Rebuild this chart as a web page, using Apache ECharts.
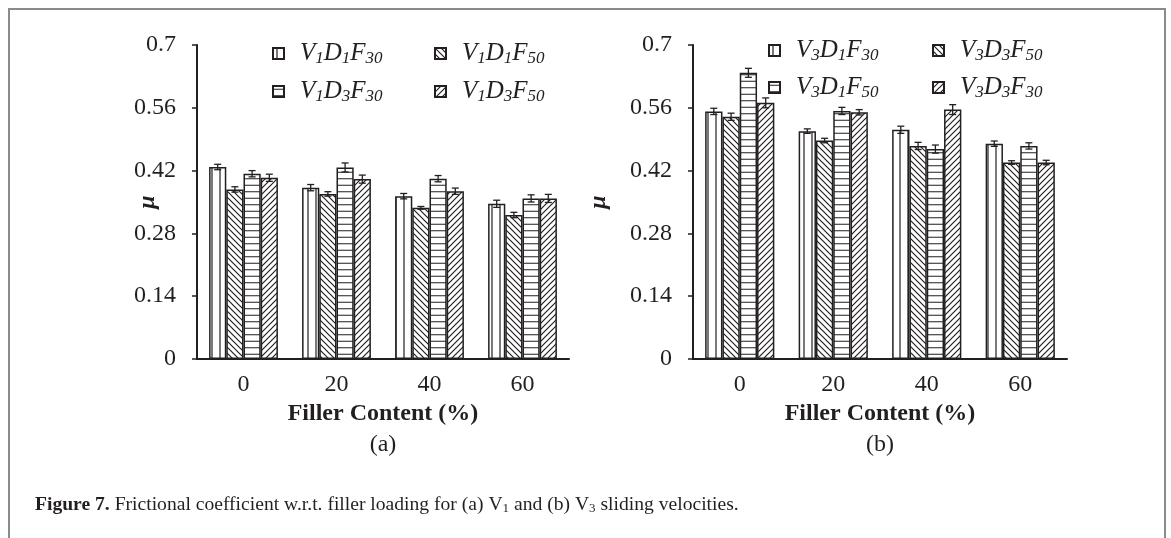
<!DOCTYPE html>
<html><head><meta charset="utf-8">
<script src="https://cdn.jsdelivr.net/npm/echarts@6/dist/echarts.min.js"></script>
<style>html,body{margin:0;padding:0;background:#fff}#c{width:1171px;height:538px}</style>
</head><body><div id="c"></div>
<script>
// ---------- data ----------
const categories = ['0', '20', '40', '60'];
const yTickLabels = ['0', '0.14', '0.28', '0.42', '0.56', '0.7'];

const namesA = ['V1D1F30', 'V1D1F50', 'V1D3F30', 'V1D3F50'];
const a_V1D1F30 = [0.428, 0.382, 0.363, 0.346];
const a_V1D1F50 = [0.378, 0.368, 0.337, 0.321];
const a_V1D3F30 = [0.413, 0.427, 0.402, 0.358];
const a_V1D3F50 = [0.404, 0.401, 0.374, 0.358];
const aErr_V1D1F30 = [0.006, 0.007, 0.006, 0.008];
const aErr_V1D1F50 = [0.006, 0.005, 0.003, 0.006];
const aErr_V1D3F30 = [0.007, 0.010, 0.007, 0.008];
const aErr_V1D3F50 = [0.008, 0.009, 0.007, 0.009];

const namesB = ['V3D1F30', 'V3D3F50', 'V3D1F50', 'V3D3F30'];
const b_V3D1F30 = [0.552, 0.508, 0.511, 0.480];
const b_V3D3F50 = [0.540, 0.487, 0.475, 0.438];
const b_V3D1F50 = [0.638, 0.553, 0.468, 0.475];
const b_V3D3F30 = [0.571, 0.550, 0.556, 0.438];
const bErr_V3D1F30 = [0.007, 0.005, 0.008, 0.006];
const bErr_V3D3F50 = [0.008, 0.005, 0.008, 0.004];
const bErr_V3D1F50 = [0.010, 0.008, 0.009, 0.007];
const bErr_V3D3F30 = [0.011, 0.006, 0.011, 0.005];

const captionText = '{b|Figure 7.} Frictional coefficient w.r.t. filler loading for (a) V{s|1} and (b) V{s|3} sliding velocities.';

// ---------- styling ----------
const INK = '#231f20';
const SERIF = 'Liberation Serif';
const BARFRAC = 0.185;

function makePattern(type) {
  const c = document.createElement('canvas');
  let w = 6, h = 6;
  if (type === 'v') { w = 8; h = 8; }
  if (type === 'h') { w = 8; h = 13; }
  c.width = w; c.height = h;
  const g = c.getContext('2d');
  g.fillStyle = '#fff'; g.fillRect(0, 0, w, h);
  g.strokeStyle = INK; g.lineWidth = 1.2;
  g.beginPath();
  if (type === 'v') { g.moveTo(4, 0); g.lineTo(4, h); }
  else if (type === 'h') { g.moveTo(0, 3.25); g.lineTo(w, 3.25); g.moveTo(0, 9.75); g.lineTo(w, 9.75); }
  else if (type === 'b') {
    g.moveTo(-1, -1); g.lineTo(w + 1, h + 1);
    g.moveTo(w - 1, -1); g.lineTo(w + 1, 1);
    g.moveTo(-1, h - 1); g.lineTo(1, h + 1);
  } else {
    g.moveTo(-1, h + 1); g.lineTo(w + 1, -1);
    g.moveTo(-1, 1); g.lineTo(1, -1);
    g.moveTo(w - 1, h + 1); g.lineTo(w + 1, h - 1);
  }
  g.stroke();
  return { image: c, repeat: 'repeat' };
}
const patterns = [makePattern('v'), makePattern('b'), makePattern('h'), makePattern('f')];

function richName(name) {
  const m = name.match(/^V(\d)D(\d)F(\d+)$/);
  return '{m|V}{s|' + m[1] + '}{m|D}{s|' + m[2] + '}{m|F}{s|' + m[3] + '}';
}
const legendRich = {
  m: { fontFamily: SERIF, fontStyle: 'italic', fontSize: 25, color: INK, lineHeight: 28 },
  s: { fontFamily: SERIF, fontStyle: 'italic', fontSize: 17, color: INK, lineHeight: 11, verticalAlign: 'bottom' }
};
function legendItem(name, left, top) {
  return {
    data: [name], left: left, top: top, padding: 0, itemWidth: 11, itemHeight: 11,
    icon: 'rect', selectedMode: false,
    formatter: richName,
    textStyle: { rich: legendRich, padding: [0, 0, 0, 11] }
  };
}

function barSeries(idx, name, data) {
  return {
    type: 'bar', name: name, xAxisIndex: idx < 4 ? 0 : 1, yAxisIndex: idx < 4 ? 0 : 1,
    data: data, barWidth: (BARFRAC * 100) + '%', barGap: '0%',
    itemStyle: { color: patterns[idx % 4], borderColor: INK, borderWidth: 1.5 },
    emphasis: { disabled: true }, z: 2
  };
}
function errSeries(gridIdx, pos, vals, errs) {
  return {
    type: 'custom', xAxisIndex: gridIdx, yAxisIndex: gridIdx, silent: true, z: 5,
    encode: { x: 0, y: [1, 2] },
    data: vals.map((v, k) => [k, v - errs[k], v + errs[k]]),
    renderItem: function (params, api) {
      const band = api.size([1, 0])[0];
      const bw = band * BARFRAC;
      const x = api.coord([api.value(0), 0])[0] + (pos - 1.5) * bw;
      const lo = api.coord([api.value(0), api.value(1)])[1];
      const hi = api.coord([api.value(0), api.value(2)])[1];
      const cw = 3.5;
      const st = { stroke: INK, lineWidth: 1.3 };
      return {
        type: 'group', children: [
          { type: 'line', shape: { x1: x, y1: lo, x2: x, y2: hi }, style: st },
          { type: 'line', shape: { x1: x - cw, y1: lo, x2: x + cw, y2: lo }, style: st },
          { type: 'line', shape: { x1: x - cw, y1: hi, x2: x + cw, y2: hi }, style: st }
        ]
      };
    }
  };
}

function xAxisCfg(gridIndex) {
  return {
    type: 'category', gridIndex: gridIndex, data: categories,
    name: 'Filler Content (%)', nameLocation: 'middle', nameGap: 43, nameMoveOverlap: false,
    nameTextStyle: { fontFamily: SERIF, fontWeight: 'bold', fontSize: 24, color: INK },
    axisLine: { lineStyle: { color: INK, width: 2 } },
    axisTick: { alignWithLabel: true, length: 5, lineStyle: { color: INK, width: 1.5 } },
    axisLabel: { fontFamily: SERIF, fontSize: 24, color: INK, margin: 14 }
  };
}
function yAxisCfg(gridIndex, nameGap) {
  return {
    type: 'value', gridIndex: gridIndex, min: 0, max: 0.7, interval: 0.14,
    name: 'μ', nameLocation: 'middle', nameRotate: 90, nameGap: nameGap, nameMoveOverlap: false,
    nameTextStyle: { fontFamily: SERIF, fontWeight: 'bold', fontStyle: 'italic', fontSize: 24, color: INK },
    splitLine: { show: false },
    axisLine: { show: true, lineStyle: { color: INK, width: 2 } },
    axisTick: { show: true, length: 5, lineStyle: { color: INK, width: 1.5 } },
    axisLabel: {
      fontFamily: SERIF, fontSize: 24, color: INK, margin: 21,
      formatter: function (v, i) { return yTickLabels[i]; }
    }
  };
}

const seriesA = [a_V1D1F30, a_V1D1F50, a_V1D3F30, a_V1D3F50];
const errA = [aErr_V1D1F30, aErr_V1D1F50, aErr_V1D3F30, aErr_V1D3F50];
const seriesB = [b_V3D1F30, b_V3D3F50, b_V3D1F50, b_V3D3F30];
const errB = [bErr_V3D1F30, bErr_V3D3F50, bErr_V3D1F50, bErr_V3D3F30];

const series = [];
namesA.forEach((n, i) => series.push(barSeries(i, n, seriesA[i])));
namesB.forEach((n, i) => series.push(barSeries(4 + i, n, seriesB[i])));
seriesA.forEach((v, i) => series.push(errSeries(0, i, v, errA[i])));
seriesB.forEach((v, i) => series.push(errSeries(1, i, v, errB[i])));

const chart = echarts.init(document.getElementById('c'), null, { renderer: 'canvas' });
chart.setOption({
  animation: false,
  backgroundColor: '#fff',
  grid: [
    { left: 197, width: 372, top: 45, height: 314 },
    { left: 693, width: 374, top: 45, height: 314 }
  ],
  xAxis: [xAxisCfg(0), xAxisCfg(1)],
  yAxis: [yAxisCfg(0, 37), yAxisCfg(1, 82)],
  legend: [
    legendItem(namesA[0], 272, 41), legendItem(namesA[1], 434, 41),
    legendItem(namesA[2], 272, 79), legendItem(namesA[3], 434, 79),
    legendItem(namesB[0], 768, 38), legendItem(namesB[1], 932, 38),
    legendItem(namesB[2], 768, 75), legendItem(namesB[3], 932, 75)
  ],
  series: series,
  graphic: [
    { type: 'polyline', silent: true, shape: { points: [[9, 538], [9, 9], [1165, 9], [1165, 538]] },
      style: { stroke: '#8a8a8a', lineWidth: 2, fill: null } },
    { type: 'text', silent: true, x: 383, y: 445,
      style: { text: '(a)', fontFamily: SERIF, fontSize: 24, fill: INK, align: 'center', verticalAlign: 'middle' } },
    { type: 'text', silent: true, x: 880, y: 445,
      style: { text: '(b)', fontFamily: SERIF, fontSize: 24, fill: INK, align: 'center', verticalAlign: 'middle' } },
    { type: 'text', silent: true, x: 35, y: 505,
      style: {
        text: captionText, fontFamily: SERIF, fontSize: 19.6, fill: INK, verticalAlign: 'middle',
        rich: {
          b: { fontFamily: SERIF, fontWeight: 'bold', fontSize: 19.6, fill: INK },
          s: { fontFamily: SERIF, fontSize: 13, fill: INK, lineHeight: 8, verticalAlign: 'bottom' }
        }
      } }
  ]
});
</script>
</body></html>
